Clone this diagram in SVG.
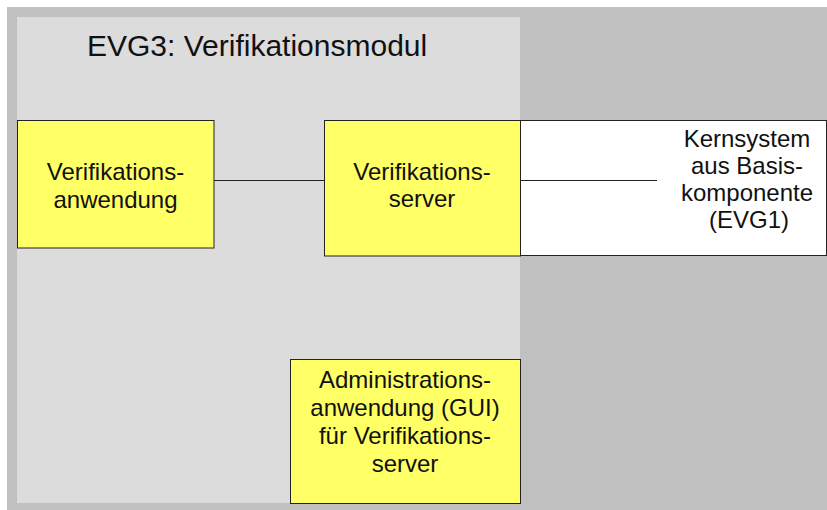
<svg xmlns="http://www.w3.org/2000/svg" width="827" height="510" viewBox="0 0 827 510">
<style>
.box{fill:#ffff66;stroke:#222;stroke-width:1}
.wbox{fill:#ffffff;stroke:#222;stroke-width:1}
.t{font-family:"Liberation Sans",Arial,sans-serif;font-size:24px;fill:#111;text-anchor:middle}
.title{font-family:"Liberation Sans",Arial,sans-serif;font-size:30px;fill:#111}
.conn{stroke:#222;stroke-width:1;fill:none}
</style>
<rect x="0" y="0" width="827" height="510" fill="#ffffff"/>
<rect x="7" y="7" width="820" height="503" fill="#c0c0c0"/>
<g id="panel">
<rect x="17" y="17" width="503" height="486" fill="#dcdcdc"/>
<text class="title" x="87" y="56">EVG3: Verifikationsmodul</text>
</g>
<g id="kernsystem">
<rect class="wbox" x="520.5" y="120.5" width="306" height="135"/>
<text class="t" x="747" y="147">Kernsystem</text>
<text class="t" x="747" y="174">aus Basis-</text>
<text class="t" x="747" y="201">komponente</text>
<text class="t" x="749" y="228">(EVG1)</text>
</g>
<g id="connectors">
<line class="conn" x1="214" y1="180.5" x2="324" y2="180.5"/>
<line class="conn" x1="520" y1="180.5" x2="657" y2="180.5"/>
</g>
<g id="verifikationsanwendung">
<rect class="box" x="17.5" y="120.5" width="196.5" height="127.5"/>
<text class="t" x="115.5" y="180">Verifikations-</text>
<text class="t" x="115.5" y="208">anwendung</text>
</g>
<g id="verifikationsserver">
<rect class="box" x="324.5" y="120.5" width="196" height="135.5"/>
<text class="t" x="422" y="180">Verifikations-</text>
<text class="t" x="422" y="207">server</text>
</g>
<g id="administrationsanwendung">
<rect class="box" x="290.5" y="359.5" width="230" height="144"/>
<text class="t" x="405" y="388">Administrations-</text>
<text class="t" x="405" y="416">anwendung (GUI)</text>
<text class="t" x="405" y="444">für Verifikations-</text>
<text class="t" x="405" y="472">server</text>
</g>
</svg>
